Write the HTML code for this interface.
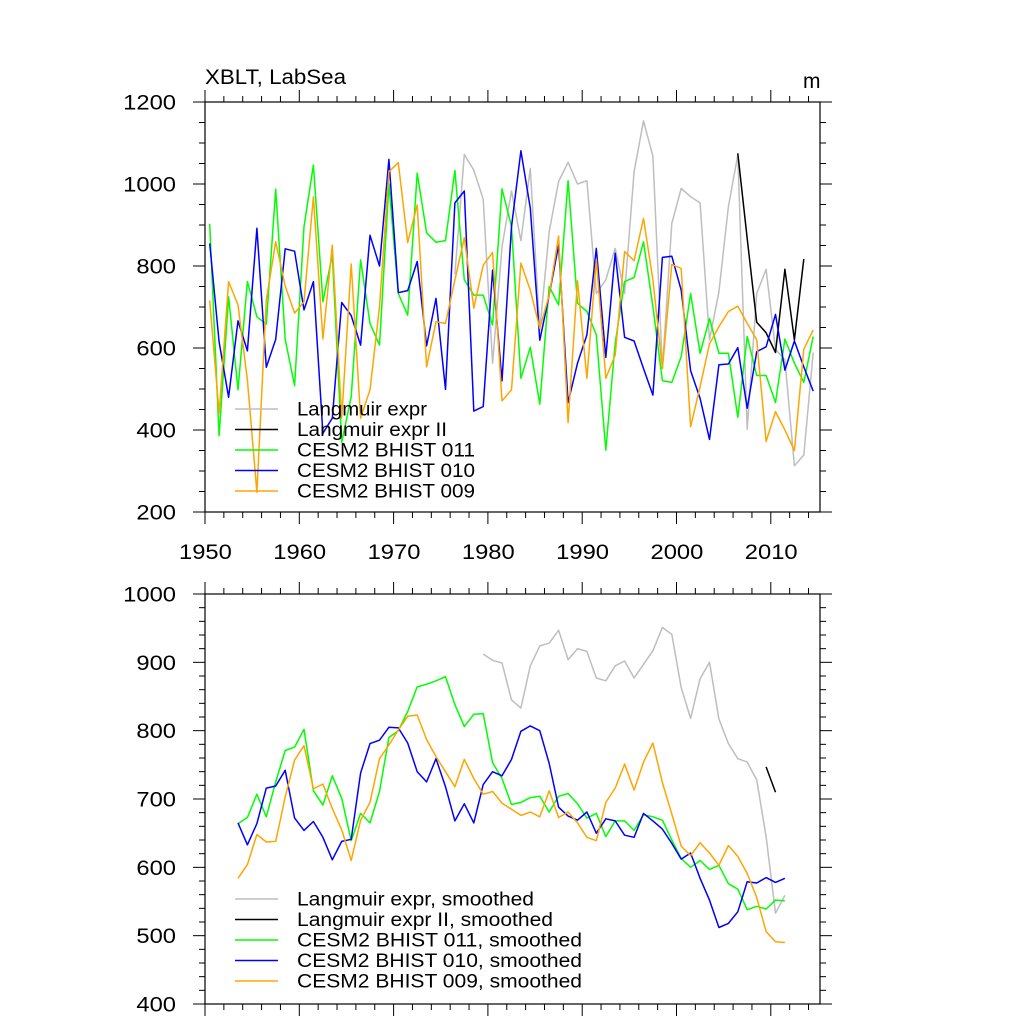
<!DOCTYPE html>
<html><head><meta charset="utf-8"><style>
html,body{margin:0;padding:0;background:#fff;}
svg{display:block;font-family:"Liberation Sans",Arial,sans-serif;}
</style></head><body>
<svg id="chart" width="1024" height="1024" viewBox="0 0 1024 1024" xmlns="http://www.w3.org/2000/svg">
<text x="205" y="84" font-size="21" textLength="141" lengthAdjust="spacingAndGlyphs">XBLT, LabSea</text>
<text x="803" y="88" font-size="21">m</text>
</svg>
<script>
const years = [];
for (let i = 0; i < 65; i++) years.push(1950.5 + i);
const xTicks = [1950,1960,1970,1980,1990,2000,2010];
const topTicks = [200,400,600,800,1000,1200];
const botTicks = [400,500,600,700,800,900,1000];

const topGreen = [903,386,725,498,762,676,658,987,621,508,896,1046,713,827,370,481,815,660,607,1000,733,680,1026,881,858,862,1033,766,729,729,656,988,896,526,602,463,750,705,1008,709,689,632,351,612,762,772,859,701,520,516,579,733,587,672,587,587,431,628,533,533,467,622,563,516,628];
const topBlue = [855,615,480,666,593,892,553,621,842,836,693,762,392,429,711,679,607,875,800,1060,735,740,811,605,721,499,954,983,446,457,790,520,896,1081,941,619,729,851,467,563,632,843,577,831,626,617,550,485,821,824,741,545,477,377,559,561,601,453,591,603,682,546,617,554,495];
const topOrange = [716,441,762,705,522,248,717,859,751,685,713,969,622,851,429,805,429,498,700,1030,1052,857,949,554,664,660,766,869,697,802,833,471,498,807,741,648,729,873,418,764,526,816,526,583,835,813,916,766,550,804,794,408,506,610,652,689,702,660,620,372,445,400,350,597,644];
const topGrayStart = 26;
const topGray = [780,1072,1034,963,563,847,983,862,1038,644,884,1006,1053,1000,1008,733,766,843,733,1030,1154,1068,550,904,989,969,954,620,737,945,1071,402,733,792,597,571,313,339,589];
const topBlackStart = 56;
const topBlack = [1075,867,663,637,589,792,620,817];

const smStart = 3;
const botGreen = [664,673,707,674,725,771,776,802,712,691,734,701,639,679,665,711,790,800,828,864,868,873,879,838,806,824,825,753,730,692,695,702,704,681,704,708,693,672,679,645,668,668,654,677,674,669,640,613,600,610,597,603,576,568,538,543,539,552,551];
const botBlue = [665,633,664,716,719,742,672,654,667,644,611,638,641,738,781,786,805,804,782,740,725,759,718,668,693,665,721,740,734,758,799,807,800,752,688,675,669,681,650,671,668,647,644,679,668,656,635,612,621,584,552,512,518,535,579,577,585,578,584];
const botOrange = [584,604,648,637,638,703,757,778,715,722,686,655,610,669,695,759,779,801,821,823,787,762,740,718,758,730,707,711,694,685,676,681,674,712,673,681,665,644,639,695,716,751,713,754,782,724,678,631,617,636,621,603,632,616,591,556,506,491,490];
const botGrayStart = 29;
const botGray = [912,903,899,845,833,895,924,928,947,904,920,916,877,873,895,902,877,897,917,951,941,863,818,876,900,817,781,759,754,728,645,533,559];
const botBlackStart = 59;
const botBlack = [747,710];

const legendTop = ["Langmuir expr","Langmuir expr II","CESM2 BHIST 011","CESM2 BHIST 010","CESM2 BHIST 009"];
const legendBot = ["Langmuir expr, smoothed","Langmuir expr II, smoothed","CESM2 BHIST 011, smoothed","CESM2 BHIST 010, smoothed","CESM2 BHIST 009, smoothed"];
const colors = ["#bebebe","#000000","#00ff00","#0000ff","#ffa500"];
const legTopW = [130,150,178,178,178];
const legBotW = [237,256,285,285,285];

const NS = "http://www.w3.org/2000/svg";
const svg = document.getElementById("chart");
const L = 205, R = 820;
function xS(y){ return L + (y - 1950) * 9.43; }
function mk(tag, attrs, parent){
  const e = document.createElementNS(NS, tag);
  for (const k in attrs) e.setAttribute(k, attrs[k]);
  (parent || svg).appendChild(e);
  return e;
}

function panel(name, top, bot, vmin, vmax, ticks, minorStep, showX, series, legend, legW, legY){
  const g = mk("g", {});
  
  
  const yS = v => bot - (v - vmin) / (vmax - vmin) * (bot - top);
  series.forEach((s, si) => {
    const pts = s.vals.map((v, k) => xS(years[s.start + k]).toFixed(1) + "," + yS(v).toFixed(1)).join(" ");
    const pl = mk("polyline", {points: pts, fill: "none", stroke: s.color, "stroke-width": 1.5, "stroke-linejoin": "round"}, g);
    
    
  });
  const fr = mk("rect", {x: L, y: top, width: R - L, height: bot - top, fill: "none", stroke: "#000", "stroke-width": 1.2}, g);
  
  
  for (let v = vmin; v <= vmax + 0.01; v += minorStep){
    const major = ticks.indexOf(Math.round(v)) >= 0;
    const len = major ? 12 : 6;
    const y = yS(v);
    mk("line", {x1: L - len, x2: L, y1: y, y2: y, stroke: "#000", "stroke-width": 1}, g);
    mk("line", {x1: R, x2: R + len, y1: y, y2: y, stroke: "#000", "stroke-width": 1}, g);
  }
  ticks.forEach(v => {
    const s = String(v);
    const t = mk("text", {x: 176, y: yS(v) + 7.5, "font-size": 21, "text-anchor": "end", textLength: s.length * 13.2, lengthAdjust: "spacingAndGlyphs"}, g);
    t.textContent = s;
    
    
  });
  for (let yr = 1950; yr <= 2015; yr += 2){
    const major = yr % 10 === 0;
    const len = major ? 12 : 6;
    const x = xS(yr);
    mk("line", {x1: x, x2: x, y1: bot, y2: bot + len, stroke: "#000", "stroke-width": 1}, g);
    mk("line", {x1: x, x2: x, y1: top - len, y2: top, stroke: "#000", "stroke-width": 1}, g);
  }
  if (showX){
    xTicks.forEach(yr => {
      const t = mk("text", {x: xS(yr) - 26, y: 559, "font-size": 21, textLength: 52.8, lengthAdjust: "spacingAndGlyphs"}, g);
      t.textContent = yr;
      
      
    });
  }
  legend.forEach((lab, i) => {
    const y = legY + i * 20.5;
    const ln = mk("line", {x1: 235, x2: 278, y1: y, y2: y, stroke: colors[i], "stroke-width": 1.5}, g);
    
    
    const t = mk("text", {x: 297, y: y + 6.5, "font-size": 19, textLength: legW[i], lengthAdjust: "spacingAndGlyphs"}, g);
    t.textContent = lab;
    
    
  });
}

panel("top-panel", 102, 512, 200, 1200, topTicks, 50, true, [
  {name: "langmuir-expr-line", start: topGrayStart, vals: topGray, color: colors[0]},
  {name: "langmuir-expr-ii-line", start: topBlackStart, vals: topBlack, color: colors[1]},
  {name: "cesm2-bhist-011-line", start: 0, vals: topGreen, color: colors[2]},
  {name: "cesm2-bhist-010-line", start: 0, vals: topBlue, color: colors[3]},
  {name: "cesm2-bhist-009-line", start: 0, vals: topOrange, color: colors[4]}
], legendTop, legTopW, 409);

panel("bottom-panel", 594, 1004, 400, 1000, botTicks, 20, false, [
  {name: "langmuir-expr-smoothed-line", start: botGrayStart, vals: botGray, color: colors[0]},
  {name: "langmuir-expr-ii-smoothed-line", start: botBlackStart, vals: botBlack, color: colors[1]},
  {name: "cesm2-bhist-011-smoothed-line", start: smStart, vals: botGreen, color: colors[2]},
  {name: "cesm2-bhist-010-smoothed-line", start: smStart, vals: botBlue, color: colors[3]},
  {name: "cesm2-bhist-009-smoothed-line", start: smStart, vals: botOrange, color: colors[4]}
], legendBot, legBotW, 899);
</script>
</body></html>
